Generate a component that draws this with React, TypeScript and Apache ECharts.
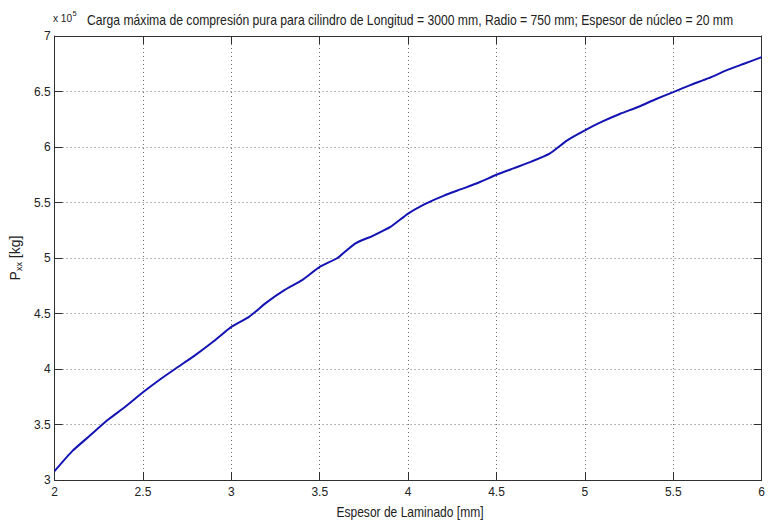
import React, { useEffect, useRef } from "react";
import * as echarts from "echarts";

const espesor: number[] = [
  2.0, 2.1, 2.2, 2.3, 2.4, 2.5, 2.6, 2.7, 2.8, 2.9,
  3.0, 3.1, 3.2, 3.3, 3.4, 3.5, 3.6, 3.7, 3.8, 3.9,
  4.0, 4.1, 4.2, 4.3, 4.4, 4.5, 4.6, 4.7, 4.8, 4.9,
  5.0, 5.1, 5.2, 5.3, 5.4, 5.5, 5.6, 5.7, 5.8, 5.9, 6.0,
];
const carga: number[] = [
  308000, 326000, 340000, 354000, 366000, 379000, 391000, 402000, 413000, 425000,
  438000, 447000, 460000, 471000, 480000, 492000, 500000, 513000, 520000, 528000,
  540000, 549000, 556000, 562000, 568000, 575000, 581000, 587000, 594000, 606000,
  615000, 623000, 630000, 636000, 643000, 649500, 656000, 662000, 669000, 675000, 681000,
];

const TITLE = "Carga máxima de compresión pura para cilindro de Longitud = 3000 mm, Radio = 750 mm; Espesor de núcleo = 20 mm";
const X_NAME = "Espesor de Laminado [mm]";

const FONT = "'Liberation Sans', Arial, sans-serif";
const AXIS_COLOR = "#303030";
const TEXT_COLOR = "#222222";

export default function App() {
  const ref = useRef<HTMLDivElement>(null);
  useEffect(() => {
    if (!ref.current) return;
    const chart = echarts.init(ref.current, null, { renderer: "svg" });
    const data = espesor.map((x, i) => [x, carga[i]]);
    chart.setOption({
      animation: false,
      backgroundColor: "#ffffff",
      grid: { left: 54, right: 2, top: 36, bottom: 46, containLabel: false },
      graphic: [
        {
          type: "text",
          x: 410,
          y: 20,
          scaleX: 0.84,
          style: {
            text: TITLE,
            fontFamily: FONT,
            fontSize: 14.5,
            fill: TEXT_COLOR,
            align: "center",
            verticalAlign: "middle",
          },
        },
        {
          type: "text",
          x: 410,
          y: 512,
          scaleX: 0.86,
          style: {
            text: X_NAME,
            fontFamily: FONT,
            fontSize: 14,
            fill: TEXT_COLOR,
            align: "center",
            verticalAlign: "middle",
          },
        },
        {
          type: "text",
          x: 53,
          y: 18,
          scaleX: 0.88,
          style: { text: "x 10", fontFamily: FONT, fontSize: 11.5, fill: TEXT_COLOR, align: "left", verticalAlign: "middle" },
        },
        {
          type: "text",
          x: 72.5,
          y: 13,
          style: { text: "5", fontFamily: FONT, fontSize: 7.5, fill: TEXT_COLOR, align: "left", verticalAlign: "middle" },
        },
      ],
      xAxis: [
        {
          type: "value",
          min: 2,
          max: 6,
          interval: 0.5,
          position: "bottom",
          axisLine: { show: true, lineStyle: { color: AXIS_COLOR, width: 1 } },
          axisTick: { show: true, inside: true, length: 8, lineStyle: { color: AXIS_COLOR } },
          axisLabel: { fontFamily: FONT, fontSize: 12, color: TEXT_COLOR, margin: 6 },
          splitLine: { show: true, lineStyle: { color: "#707070", type: [1, 3], width: 1 } },
        },
        {
          type: "value",
          min: 2,
          max: 6,
          interval: 0.5,
          position: "top",
          axisLine: { show: true, lineStyle: { color: AXIS_COLOR, width: 1 } },
          axisTick: { show: true, inside: true, length: 8, lineStyle: { color: AXIS_COLOR } },
          axisLabel: { show: false },
          splitLine: { show: false },
        },
      ],
      yAxis: [
        {
          type: "value",
          min: 300000,
          max: 700000,
          interval: 50000,
          position: "left",
          name: "P{sub|xx} [kg]",
          nameLocation: "middle",
          nameGap: 31,
          nameRotate: 90,
          nameTextStyle: {
            fontFamily: FONT,
            fontSize: 14,
            color: TEXT_COLOR,
            rich: { sub: { fontSize: 9, verticalAlign: "bottom", padding: [7, 0, 0, 0], fontFamily: FONT, color: TEXT_COLOR } },
          },
          axisLine: { show: true, lineStyle: { color: AXIS_COLOR, width: 1 } },
          axisTick: { show: true, inside: true, length: 8, lineStyle: { color: AXIS_COLOR } },
          axisLabel: {
            fontFamily: FONT,
            fontSize: 12,
            color: TEXT_COLOR,
            margin: 4,
            formatter: (v: number) => String(Math.round((v / 100000) * 10) / 10),
          },
          splitLine: { show: true, lineStyle: { color: "#707070", type: [1, 3], width: 1 } },
        },
        {
          type: "value",
          min: 300000,
          max: 700000,
          interval: 50000,
          position: "right",
          axisLine: { show: true, lineStyle: { color: AXIS_COLOR, width: 1 } },
          axisTick: { show: true, inside: true, length: 8, lineStyle: { color: AXIS_COLOR } },
          axisLabel: { show: false },
          splitLine: { show: false },
        },
      ],
      series: [
        {
          type: "line",
          data,
          xAxisIndex: 0,
          yAxisIndex: 0,
          showSymbol: false,
          smooth: 0.2,
          lineStyle: { color: "#1414b4", width: 2 },
        },
      ],
    });
    return () => chart.dispose();
  }, []);
  return <div ref={ref} style={{ width: 768, height: 526, position: "absolute", left: 0, top: 0 }} />;
}
